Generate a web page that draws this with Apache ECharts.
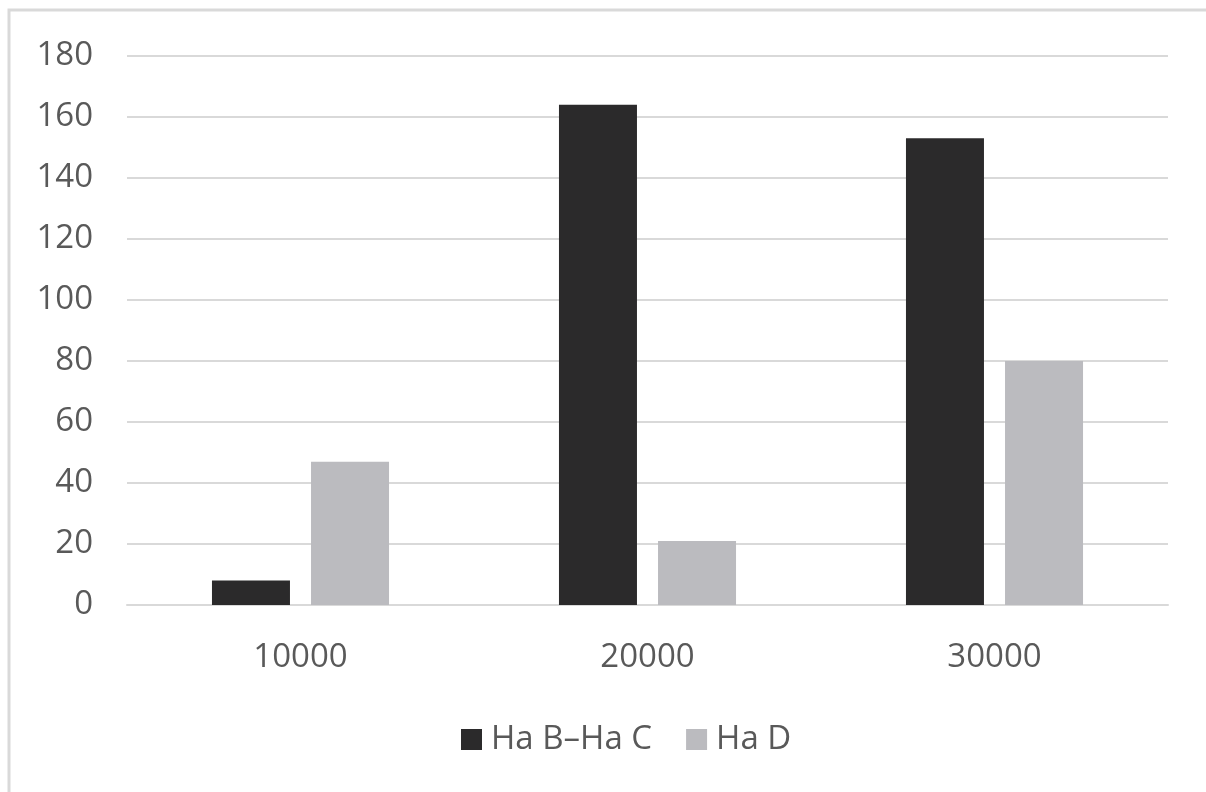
<!DOCTYPE html>
<html>
<head>
<meta charset="utf-8">
<script src="https://cdn.jsdelivr.net/npm/echarts@6/dist/echarts.min.js"></script>
<style>
  html, body { margin: 0; padding: 0; background: #ffffff; }
  #chart { width: 1206px; height: 792px; }
</style>
</head>
<body>
<div id="chart"></div>
<script>
// Categories along the x axis
const categories = ['10000', '20000', '30000'];
// Series values
const seriesNames = ['Ha B\u2013Ha C', 'Ha D'];
const valuesBC = [8, 164, 153];
const valuesD = [47, 21, 80];
// Y axis range
const yMin = 0;
const yMax = 180;
const yStep = 20;

const textColor = '#595959';
const lineColor = '#d9d9d9';
const fontFamily = '"Open Sans", "Noto Sans", sans-serif';

const chart = echarts.init(document.getElementById('chart'), null, { renderer: 'canvas' });

chart.setOption({
  backgroundColor: '#ffffff',
  animation: false,
  textStyle: { fontFamily: fontFamily },
  graphic: [{
    type: 'rect',
    shape: { x: 9, y: 10, width: 1400, height: 1000 },
    style: { fill: 'none', stroke: lineColor, lineWidth: 3 },
    silent: true
  }],
  grid: { left: 127, right: 38, top: 56, bottom: 187 },
  legend: {
    bottom: 31,
    left: 456,
    itemWidth: 21,
    itemHeight: 21,
    itemGap: 34,
    icon: 'rect',
    textStyle: { color: textColor, fontSize: 33, fontFamily: fontFamily, padding: [0, 0, 0, 4] },
    data: seriesNames
  },
  xAxis: {
    type: 'category',
    data: categories,
    axisLine: { show: true, lineStyle: { color: lineColor, width: 2 } },
    axisTick: { show: false },
    axisLabel: { color: textColor, fontSize: 33, margin: 36, fontFamily: fontFamily }
  },
  yAxis: {
    type: 'value',
    min: yMin,
    max: yMax,
    interval: yStep,
    axisLine: { show: false },
    axisTick: { show: false },
    splitLine: { lineStyle: { color: lineColor, width: 2 } },
    axisLabel: { color: textColor, fontSize: 33, margin: 34, fontFamily: fontFamily }
  },
  series: [
    {
      name: seriesNames[0],
      type: 'bar',
      data: valuesBC,
      barWidth: 78,
      barGap: '27%',
      itemStyle: { color: '#2b2a2b' }
    },
    {
      name: seriesNames[1],
      type: 'bar',
      data: valuesD,
      barWidth: 78,
      barGap: '27%',
      itemStyle: { color: '#bbbbbf' }
    }
  ]
});
</script>
</body>
</html>
